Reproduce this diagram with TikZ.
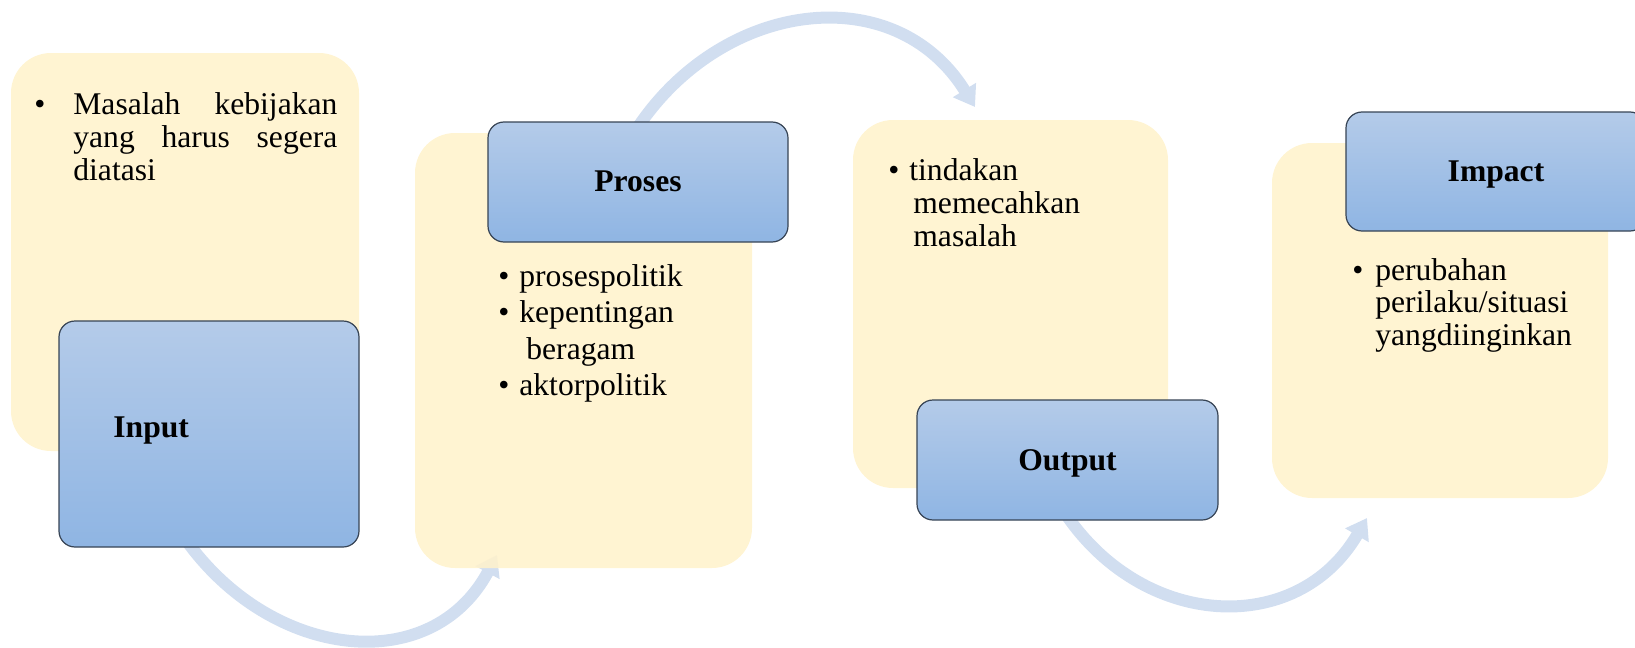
\documentclass[tikz,border=0pt]{standalone}
\usepackage{fontspec}
\setmainfont{Liberation Serif}
\usetikzlibrary{arrows.meta}

\definecolor{boxyellow}{RGB}{255,242,204}
\definecolor{bluetop}{RGB}{180,203,233}
\definecolor{bluebot}{RGB}{143,181,227}
\definecolor{blueedge}{RGB}{55,68,85}
\definecolor{flowblue}{RGB}{209,222,240}

\tikzset{
  panel/.style={draw=none, fill=boxyellow, fill opacity=0.88, rounded corners=20pt, inner sep=0pt},
  stage/.style={draw=blueedge, line width=0.6pt, top color=bluetop, bottom color=bluebot,
                rounded corners=8pt, inner sep=0pt},
  flow/.style={draw=flowblue, line width=6pt, -{Triangle[width=13pt,length=10pt]}},
  body/.style={inner sep=0pt, anchor=base west},
  title/.style={inner sep=0pt, anchor=base, font=\fontsize{15.8}{16}\selectfont\bfseries},
}

\begin{document}
\begin{tikzpicture}[x=0.5pt, y=-0.5pt]
  \useasboundingbox (0,0) rectangle (1635,648);
  \clip (0,0) rectangle (1635,648);

  % curved flow arrows (behind the panels)
  \coordinate (f1s) at (186,540);
  \coordinate (f1e) at (497,555);
  \coordinate (f2s) at (636,130);
  \coordinate (f2e) at (975,107);
  \coordinate (f3s) at (1063,510);
  \coordinate (f3e) at (1367,518);
  \draw[flow] (f1s) .. controls (272,660) and (431,678) .. (f1e);
  \draw[flow] (f2s) .. controls (721,0) and (894,-23) .. (f2e);
  \draw[flow] (f3s) .. controls (1141,630) and (1297,638) .. (f3e);

  % content panels
  \node[panel, minimum width=174pt, minimum height=199pt] (pin) at (185,252) {};
  \node[panel, minimum width=168.5pt, minimum height=217.5pt] (ppr) at (583.5,350.5) {};
  \node[panel, minimum width=157.5pt, minimum height=184pt] (pout) at (1010.5,304) {};
  \node[panel, minimum width=168pt, minimum height=177.5pt] (pim) at (1440,320.5) {};

  % stage boxes
  \node[stage, minimum width=150pt, minimum height=113pt] (sin) at (209,434) {};
  \node[stage, minimum width=150pt, minimum height=60pt] (spr) at (638,182) {};
  \node[stage, minimum width=150.5pt, minimum height=60pt] (sout) at (1067.5,460) {};
  \node[stage, minimum width=150pt, minimum height=59.5pt] (sim) at (1496,171.5) {};

  % stage titles
  \node[title, anchor=base west] (lin) at (113,437) {Input};
  \node[title] (lpr) at (638,191) {Proses};
  \node[title] (lout) at (1067.5,470) {Output};
  \node[title] (lim) at (1496,181) {Impact};

  % bullet texts
  \node[body] (tin) at (34,114) {\parbox[t]{172pt}{\fontsize{15.8}{16.7}\selectfont
    \makebox[19.5pt][l]{\textbullet}\makebox[132pt][s]{Masalah\hfill kebijakan}\\
    \hspace*{19.5pt}\makebox[132pt][s]{yang\hfill harus\hfill segera}\\
    \hspace*{19.5pt}diatasi}};
  \node[body] (tpr) at (498,286) {\parbox[t]{150pt}{\fontsize{15.8}{18.3}\selectfont
    \makebox[10.5pt][l]{\textbullet}prosespolitik\\
    \makebox[10.5pt][l]{\textbullet}kepentingan\\
    \hspace*{14pt}beragam\\
    \makebox[10.5pt][l]{\textbullet}aktorpolitik}};
  \node[body] (tout) at (888,180) {\parbox[t]{140pt}{\fontsize{15.8}{16.6}\selectfont
    \makebox[10.5pt][l]{\textbullet}tindakan\\
    \hspace*{12.5pt}memecahkan\\
    \hspace*{12.5pt}masalah}};
  \node[body] (tim) at (1352,280) {\parbox[t]{140pt}{\fontsize{15.8}{16.25}\selectfont
    \makebox[11.5pt][l]{\textbullet}perubahan\\
    \hspace*{11.5pt}perilaku/situasi\\
    \hspace*{11.5pt}yangdiinginkan}};
\end{tikzpicture}
\end{document}
